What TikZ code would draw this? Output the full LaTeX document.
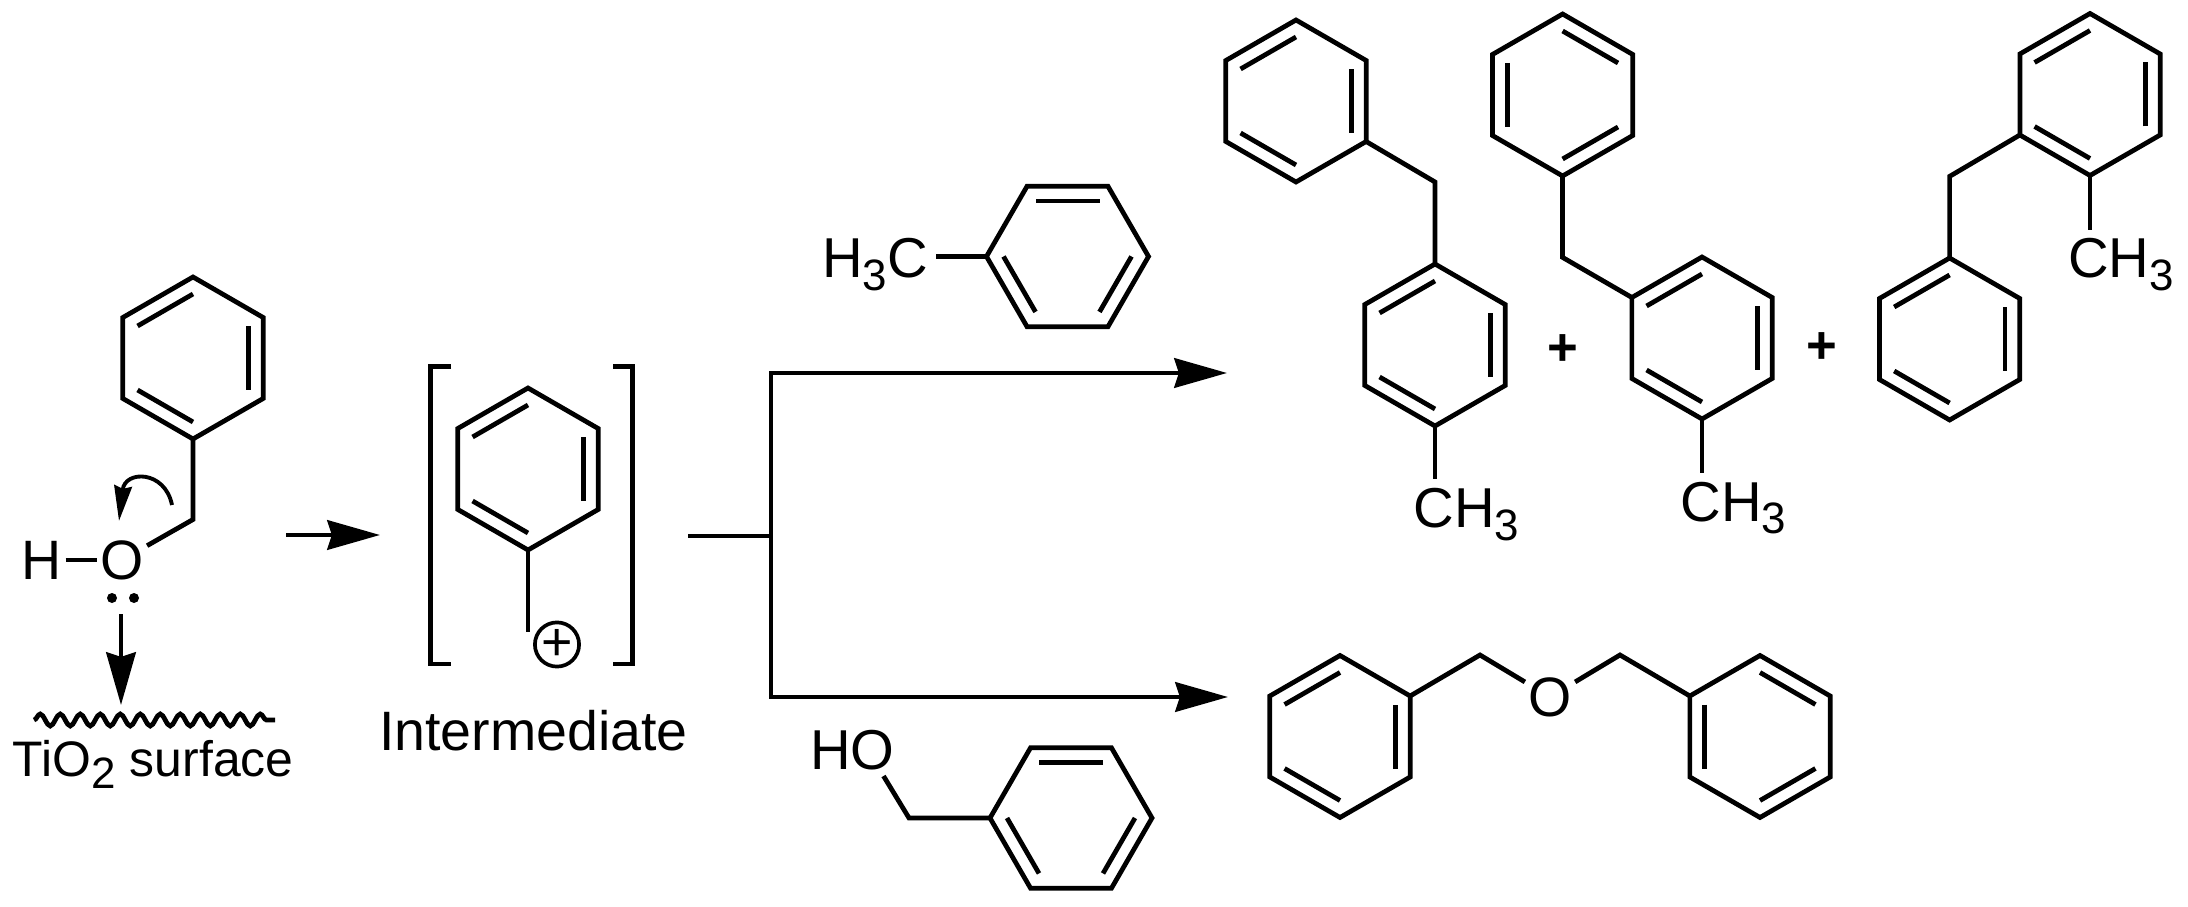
\documentclass[tikz,border=0pt]{standalone}
\usepackage{fontspec}
\setmainfont{Liberation Sans}
\usetikzlibrary{arrows.meta,decorations.pathmorphing,calc}

\newcommand{\lowidx}[1]{\raisebox{-3.6pt}{\fontsize{12.5}{12.5}\selectfont #1}}
% ring: name, centre, angle of first vertex, angle where the double bonds start
\newcommand{\benzring}[4]{
	\coordinate (#1) at #2;
	\draw[bond] ($(#1)+(#3:0.81)$) -- ($(#1)+(#3+60:0.81)$) -- ($(#1)+(#3+120:0.81)$) -- ($(#1)+(#3+180:0.81)$) -- ($(#1)+(#3+240:0.81)$) -- ($(#1)+(#3+300:0.81)$) -- cycle;
	\foreach \t in {0,60,...,300} {
		\pgfmathtruncatemacro{\ang}{#3+\t}
		\coordinate (#1-\ang) at ($(#1)+(\ang:0.81)$);
	}
	\foreach \t in {0,120,240} {
		\draw[bond] ($(#1)+(#4+\t:0.64)$) -- ($(#1)+(#4+\t+60:0.64)$);
	}
}

\tikzset{
	bond/.style={line width=1.35pt,line join=miter},
	rxn/.style={line width=1.25pt,-{Stealth[length=15pt,width=8.4pt,inset=1.3pt]}},
	atom/.style={inner sep=1pt,outer sep=0pt,font=\fontsize{15.8}{18}\selectfont},
	chemlabel/.style={inner sep=0pt,outer sep=0pt,anchor=base west,font=\fontsize{16}{18}\selectfont},
	lonepair/.style={circle,fill=black,inner sep=0pt,minimum size=0.10cm},
	plussign/.style={inner sep=0pt,font=\fontsize{15}{18}\bfseries\selectfont}
}

\begin{document}
\begin{tikzpicture}
	\useasboundingbox (0,0) rectangle (21.88,9.06);
	
	% benzyl alcohol on the surface
	\benzring{A}{(1.93,5.48)}{30}{90}
	\coordinate (ach) at (1.93,3.865);
	\node[atom] (oa) at (1.22,3.46) {O};
	\node[atom] (ha) at (0.42,3.46) {H};
	\draw[bond] (A-270) -- (ach) -- (oa);
	\draw[bond] (ha) -- (oa);
	\node[lonepair] (lpa) at (1.12,3.08) {};
	\node[lonepair] (lpb) at (1.34,3.08) {};
	\coordinate (cva) at (1.72,4.01);
	\coordinate (cvb) at (1.19,3.85);
	\draw[line width=1.1pt,-{Stealth[length=10pt,width=5pt,inset=0.8pt]}] (cva) .. controls (1.65,4.36) and (1.25,4.36) .. (cvb);
	\coordinate (sfa) at (1.21,2.92);
	\coordinate (sfb) at (1.21,2.01);
	\draw[rxn] (sfa) -- (sfb);
	\coordinate (wva) at (0.34,1.86);
	\coordinate (wvb) at (2.75,1.86);
	\draw[line width=1.35pt,decorate,decoration={snake,amplitude=0.06cm,segment length=0.2cm}] (wva) -- (wvb);
	\node[chemlabel,font=\fontsize{14.2}{18}\selectfont] (tio) at (0.13,1.30) {TiO\lowidx{2} surface};
	
	% first step
	\coordinate (sta) at (2.86,3.71);
	\coordinate (stb) at (3.80,3.71);
	\draw[rxn] (sta) -- (stb);
	
	% cation in brackets
	\coordinate (bla) at (4.51,5.395);
	\coordinate (blb) at (4.305,5.395);
	\coordinate (blc) at (4.305,2.42);
	\coordinate (bld) at (4.51,2.42);
	\draw[bond] (bla) -- (blb) -- (blc) -- (bld);
	\coordinate (bra) at (6.13,5.395);
	\coordinate (brb) at (6.325,5.395);
	\coordinate (brc) at (6.325,2.42);
	\coordinate (brd) at (6.13,2.42);
	\draw[bond] (bra) -- (brb) -- (brc) -- (brd);
	\benzring{B}{(5.28,4.37)}{30}{90}
	\coordinate (bch) at (5.28,2.745);
	\draw[bond] (B-270) -- (bch);
	\node[circle,draw,line width=1.05pt,inner sep=0pt,minimum size=0.40cm,font=\fontsize{15.3}{18}\selectfont] (cat) at (5.57,2.615) {+};
	\node[chemlabel,anchor=base,font=\fontsize{15.8}{18}\selectfont] (inter) at (5.335,1.555) {Intermediate};
	
	% branch
	\coordinate (bra0) at (6.88,3.70);
	\coordinate (bra1) at (7.71,3.70);
	\coordinate (bra2) at (7.71,5.33);
	\coordinate (bra3) at (7.71,2.09);
	\coordinate (up) at (12.27,5.33);
	\coordinate (down) at (12.28,2.09);
	\draw[rxn,-] (bra0) -- (bra1);
	\draw[rxn] (bra1) -- (bra2) -- (up);
	\draw[rxn] (bra1) -- (bra3) -- (down);
	
	% toluene
	\benzring{C}{(10.675,6.495)}{0}{60}
	\node[chemlabel] (hcc) at (8.22,6.28) {H\lowidx{3}C};
	\draw[bond] (C-180) -- ([xshift=0.085cm]hcc.east |- C-180);
	
	% benzyl alcohol
	\benzring{D}{(10.71,0.88)}{0}{60}
	\coordinate (dch) at (9.09,0.88);
	\coordinate (dend) at (8.835,1.30);
	\node[chemlabel] (hod) at (8.10,1.365) {HO};
	\draw[bond] (D-180) -- (dch) -- (dend);
	
	% para product
	\benzring{E}{(12.96,8.05)}{30}{90}
	\benzring{EE}{(14.35,5.61)}{30}{90}
	\coordinate (ech) at (14.35,7.24);
	\draw[bond] (E-330) -- (ech) -- (EE-90);
	\node[chemlabel] (mea) at (14.135,3.786) {CH\lowidx{3}};
	\draw[bond] (EE-270) -- ([yshift=0.09cm]EE-270 |- mea.north);
	\node[plussign] (pla) at (15.626,5.56) {+};
	
	% meta product
	\benzring{F}{(15.626,8.11)}{30}{30}
	\benzring{FF}{(17.02,5.68)}{30}{90}
	\coordinate (fch) at (15.626,6.486);
	\draw[bond] (F-270) -- (fch) -- (FF-150);
	\node[chemlabel] (meb) at (16.805,3.85) {CH\lowidx{3}};
	\draw[bond] (FF-270) -- ([yshift=0.09cm]FF-270 |- meb.north);
	\node[plussign] (plb) at (18.22,5.58) {+};
	
	% ortho product
	\benzring{G}{(20.90,8.115)}{30}{90}
	\benzring{GG}{(19.496,5.67)}{30}{90}
	\coordinate (gch) at (19.496,7.296);
	\draw[bond] (G-210) -- (gch) -- (GG-90);
	\node[chemlabel] (mec) at (20.68,6.28) {CH\lowidx{3}};
	\draw[bond] (G-270) -- ([yshift=0.09cm]G-270 |- mec.north);
	
	% ether
	\benzring{H}{(13.40,1.695)}{30}{90}
	\benzring{HH}{(17.60,1.695)}{30}{30}
	\node[atom] (oh) at (15.50,2.09) {O};
	\coordinate (hla) at (14.80,2.51);
	\coordinate (hlb) at (16.20,2.51);
	\draw[bond] (H-30) -- (hla) -- (oh);
	\draw[bond] (oh) -- (hlb) -- (HH-150);
\end{tikzpicture}
\end{document}
